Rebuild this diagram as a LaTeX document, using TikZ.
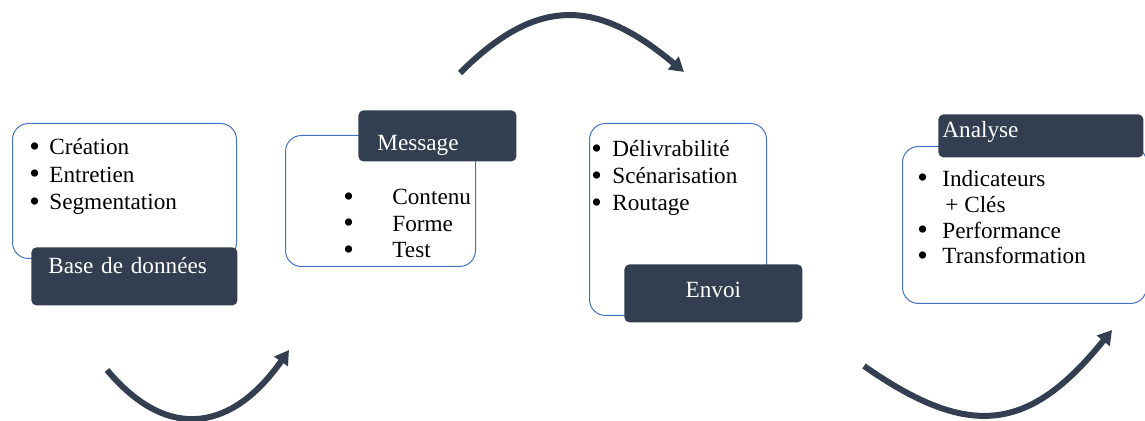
\documentclass[tikz,border=0pt]{standalone}
\usepackage{fontspec}
\setmainfont{Liberation Serif}
\usepackage{graphicx}
\usepackage{xcolor}
\usepackage{tikz}
\usetikzlibrary{arrows.meta, positioning}
\definecolor{boxblue}{RGB}{68,114,196}
\definecolor{slatecolor}{RGB}{51,63,80}
\newcommand{\puce}[1]{\makebox[#1][l]{\smash{\raisebox{-0.6pt}{\scalebox{1.3}{\textbullet}}}}}

\begin{document}
\begin{tikzpicture}[
    x=0.5pt, y=0.5pt,
    font=\fontsize{11.6}{13.25}\selectfont,
    outerbox/.style={draw=boxblue, line width=0.5pt, rounded corners=8pt, anchor=north west, inner sep=0pt},
    labelbox/.style={fill=slatecolor, rounded corners=2.5pt, text=white, anchor=north west, inner ysep=0pt, align=left},
    itemlist/.style={anchor=base west, align=left, inner sep=0pt},
    flow/.style={-{Triangle[length=7pt,width=8pt]}, line width=3pt, slatecolor}
]
    \useasboundingbox (0,0) rectangle (1145,-421);

    % Frames
    \node[outerbox, minimum width=112pt, minimum height=67.5pt] (baseframe) at (12,-123) {};
    \node[outerbox, minimum width=95pt, minimum height=65.5pt] (msgframe) at (285,-135) {};
    \node[outerbox, minimum width=88.5pt, minimum height=96pt] (envoiframe) at (589,-123) {};
    \node[outerbox, minimum width=122pt, minimum height=78.5pt] (analyseframe) at (902,-146) {};

    % Lists (anchored on the last line)
    \node[itemlist, font=\fontsize{11.6}{13.75}\selectfont] (baselist) at (29,-210) {\puce{10pt}Création\\ \puce{10pt}Entretien\\ \puce{10pt}Segmentation};
    \node[itemlist, font=\fontsize{11.6}{13.25}\selectfont] (msglist) at (343,-258) {\puce{24.5pt}Contenu\\ \puce{24.5pt}Forme\\ \puce{24.5pt}Test};
    \node[itemlist, font=\fontsize{11.6}{13.5}\selectfont] (envoilist) at (591,-211) {\puce{10.5pt}Délivrabilité\\ \puce{10.5pt}Scénarisation\\ \puce{10.5pt}Routage};
    \node[itemlist, font=\fontsize{11.6}{12.9}\selectfont] (analyselist) at (917,-264) {\puce{12.5pt}Indicateurs\\ \hspace*{14pt}+ Clés\\ \puce{12.5pt}Performance\\ \puce{12.5pt}Transformation};

    % Labels
    \node[labelbox, inner xsep=8.5pt, text width=86pt, text height=13pt, text depth=16pt] (base) at (31,-247) {Base de données};
    \node[labelbox, inner xsep=9.5pt, text width=60pt, text height=20pt, text depth=5.5pt] (msg) at (358,-110) {Message};
    \node[labelbox, inner xsep=0pt, minimum width=89pt, text height=16.5pt, text depth=12.5pt] (envoi) at (624,-264) {Envoi};
    \node[labelbox, inner xsep=2pt, text width=98.5pt, text height=11.5pt, text depth=10pt] (analyse) at (938,-114) {Analyse};

    % Arrows
    \coordinate (a1s) at (107,-370);
    \coordinate (a1e) at (289,-350);
    \coordinate (a2s) at (460,-73);
    \coordinate (a2e) at (684,-72);
    \coordinate (a3s) at (864,-366);
    \coordinate (a3e) at (1112,-330);
    \draw[flow] (a1s) to[out=-50, in=235, looseness=1.35] (a1e);
    \draw[flow] (a2s) to[out=45, in=140, looseness=1.27] (a2e);
    \draw[flow] (a3s) to[out=-35, in=231, looseness=1.33] (a3e);
\end{tikzpicture}
\end{document}
